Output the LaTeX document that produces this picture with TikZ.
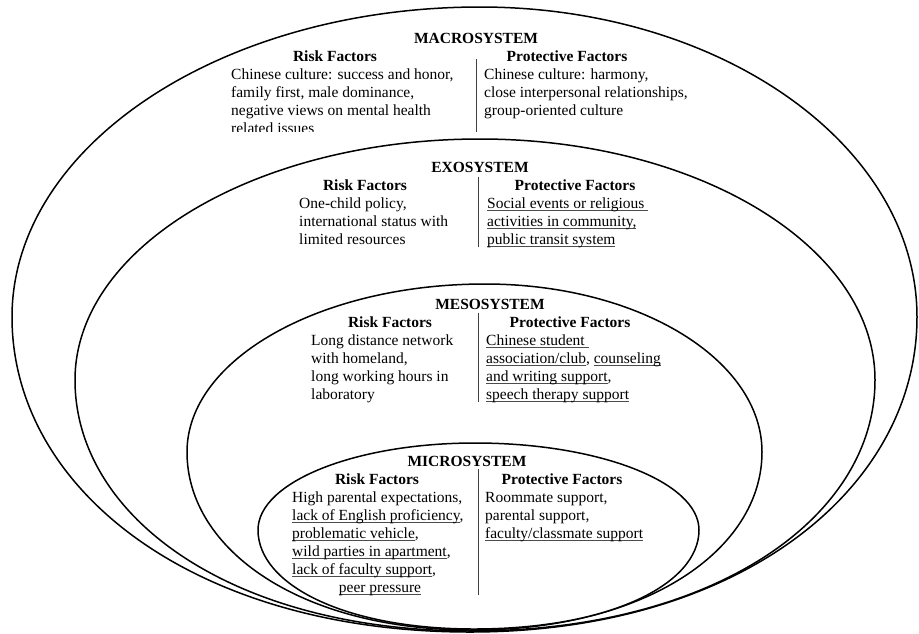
\documentclass[tikz,border=0pt]{standalone}
\usepackage{fontspec}
\setmainfont{Liberation Serif}
\newcommand\fsz{\fontsize{15.5}{18}\selectfont}
\newcommand\txtblock[1]{\begin{tabular}[t]{@{}l@{}}#1\end{tabular}}
\newlength\ulnw
\newcommand\uln[1]{\settowidth\ulnw{#1}\rlap{\color{black!70}\rule[-2.6pt]{\ulnw}{0.75pt}}#1}
\tikzset{
  sysring/.style={draw=black, line width=1.5pt, fill=white},
  ringp/.style n args={7}{insert path={
    (#1,#5) .. controls (#1,{#5-0.5523*(#5-#4)}) and ({#3-0.5523*(#3-#1)},#4) .. (#3,#4)
    .. controls ({#3+0.5523*(#2-#3)},#4) and (#2,{#5-0.5523*(#5-#4)}) .. (#2,#5)
    .. controls (#2,{#5+0.55*(#7-#5)}) and ({#6+0.6*(#2-#6)},#7) .. (#6,#7)
    .. controls ({#6-0.6*(#6-#1)},#7) and (#1,{#5+0.55*(#7-#5)}) .. cycle}},
  divline/.style={draw=black!75, line width=0.8pt},
  ttl/.style={font=\fsz\bfseries, anchor=base, inner sep=0},
  txt/.style={font=\fsz, anchor=base west, inner sep=0},
}
\begin{document}
\begin{tikzpicture}[x=1pt, y=-1pt]
\useasboundingbox (0,0) rectangle (919,633);
\fill[white] (0,0) rectangle (919,633);

% MACROSYSTEM
\draw[sysring, ringp={12}{917}{480}{7}{317}{470}{632}];
\begin{scope}
\clip (0,0) rectangle (919,131);
\node[ttl] (maT) at (476,43) {MACROSYSTEM};
\node[ttl] (maR) at (335,61) {Risk Factors};
\node[ttl] (maP) at (567,61) {Protective Factors};
\node[txt] (maRt) at (231,79) {\txtblock{Chinese culture: success and honor,\\family first, male dominance,\\negative views on mental health\\related issues}};
\node[txt] (maPt) at (484,79) {\txtblock{Chinese culture: harmony,\\close interpersonal relationships,\\group-oriented culture}};
\draw[divline] (476,59) -- (476,133);
\end{scope}

% EXOSYSTEM
\draw[sysring, ringp={75}{875}{480}{139}{380}{471}{631}];
\node[ttl] (exT) at (480,172) {EXOSYSTEM};
\node[ttl] (exR) at (365,190) {Risk Factors};
\node[ttl] (exP) at (575,190) {Protective Factors};
\node[txt] (exRt) at (299,208) {\txtblock{One-child policy,\\international status with\\limited resources}};
\node[txt] (exPt) at (487,208) {\txtblock{\uln{Social events or religious\ }\\\uln{activities in community,}\\\uln{public transit system}}};
\draw[divline] (478,177) -- (478,247);

% MESOSYSTEM
\draw[sysring, ringp={187}{762}{485}{284}{452}{472}{630}];
\node[ttl] (meT) at (490,309) {MESOSYSTEM};
\node[ttl] (meR) at (390,327) {Risk Factors};
\node[ttl] (meP) at (570,327) {Protective Factors};
\node[txt] (meRt) at (311,345) {\txtblock{Long distance network\\with homeland,\\long working hours in\\laboratory}};
\node[txt] (mePt) at (486,345) {\txtblock{\uln{Chinese student\ }\\\uln{association/club}, \uln{counseling}\\\uln{and writing support},\\\uln{speech therapy support}}};
\draw[divline] (478,313) -- (478,402);

% MICROSYSTEM
\draw[sysring, ringp={258}{699}{475}{443}{530}{474}{629}];
\node[ttl] (miT) at (467,466) {MICROSYSTEM};
\node[ttl] (miR) at (377,484) {Risk Factors};
\node[ttl] (miP) at (562,484) {Protective Factors};
\node[txt] (miRt) at (292,502) {\txtblock{High parental expectations,\\\uln{lack of English proficiency},\\\uln{problematic vehicle},\\\uln{wild parties in apartment},\\\uln{lack of faculty support},}};
\node[font=\fsz, anchor=base, inner sep=0] (miPeer) at (380,592) {\uln{peer pressure}};
\node[txt] (miPt) at (485,502) {\txtblock{Roommate support,\\parental support,\\\uln{faculty/classmate support}}};
\draw[divline] (478,469) -- (478,595);
\end{tikzpicture}
\end{document}
